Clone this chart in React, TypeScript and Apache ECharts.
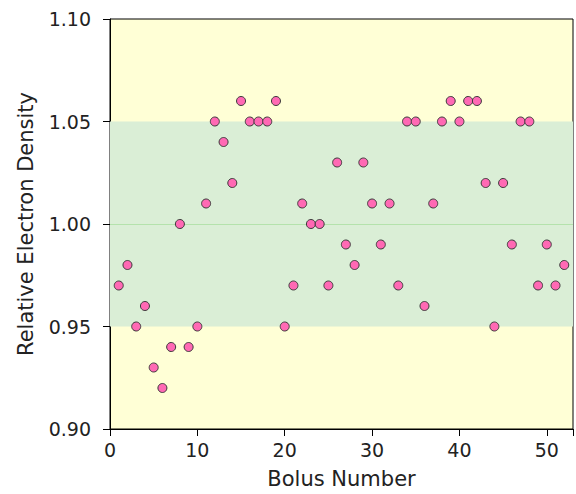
import React, { useEffect, useRef } from "react";
import * as echarts from "echarts";

const bolusNumbers = [
  1, 2, 3, 4, 5, 6, 7, 8, 9, 10, 11, 12, 13, 14, 15, 16, 17, 18, 19, 20, 21, 22, 23, 24, 25, 26,
  27, 28, 29, 30, 31, 32, 33, 34, 35, 36, 37, 38, 39, 40, 41, 42, 43, 44, 45, 46, 47, 48, 49, 50, 51, 52,
];
const relDensity = [
  0.97, 0.98, 0.95, 0.96, 0.93, 0.92, 0.94, 1.0, 0.94, 0.95, 1.01, 1.05, 1.04, 1.02, 1.06, 1.05,
  1.05, 1.05, 1.06, 0.95, 0.97, 1.01, 1.0, 1.0, 0.97, 1.03, 0.99, 0.98, 1.03, 1.01, 0.99, 1.01,
  0.97, 1.05, 1.05, 0.96, 1.01, 1.05, 1.06, 1.05, 1.06, 1.06, 1.02, 0.95, 1.02, 0.99, 1.05, 1.05,
  0.97, 0.99, 0.97, 0.98,
];
const toleranceBand = [0.95, 1.05];
const referenceValue = 1.0;

const FONT = "DejaVu Sans";

export default function App() {
  const ref = useRef<HTMLDivElement>(null);
  useEffect(() => {
    if (!ref.current) return;
    const chart = echarts.init(ref.current, undefined, { renderer: "svg" });
    chart.setOption({
      animation: false,
      grid: {
        left: 110,
        top: 19,
        right: 1,
        bottom: 62,
        show: true,
        backgroundColor: "#ffffd6",
        borderColor: "#000",
        borderWidth: 1,
      },
      xAxis: {
        type: "value",
        min: 0,
        max: 53,
        interval: 10,
        name: "Bolus Number",
        nameLocation: "middle",
        nameGap: 39,
        nameTextStyle: { fontFamily: FONT, fontSize: 21, color: "#222" },
        axisLine: { show: true, lineStyle: { color: "#000" } },
        axisTick: { show: true, length: 7, lineStyle: { color: "#000" } },
        axisLabel: {
          fontFamily: FONT,
          fontSize: 19,
          color: "#222",
          margin: 11,
          formatter: (v: number) => (v % 10 === 0 ? String(v) : ""),
        },
        splitLine: { show: false },
      },
      yAxis: {
        type: "value",
        min: 0.9,
        max: 1.1,
        interval: 0.05,
        name: "Relative Electron Density",
        nameLocation: "middle",
        nameGap: 74,
        nameTextStyle: { fontFamily: FONT, fontSize: 21, color: "#222" },
        axisLine: { show: true, lineStyle: { color: "#000" } },
        axisTick: { show: true, length: 7, lineStyle: { color: "#000" } },
        axisLabel: {
          fontFamily: FONT,
          fontSize: 19,
          color: "#222",
          margin: 19,
          formatter: (v: number) => v.toFixed(2),
        },
        splitLine: { show: false },
      },
      series: [
        {
          type: "scatter",
          data: bolusNumbers.map((b, i) => [b, relDensity[i]]),
          symbol: "circle",
          symbolSize: 9,
          itemStyle: { color: "#ff69b4", borderColor: "#3a3a3a", borderWidth: 1, opacity: 1 },
          z: 5,
          markArea: {
            silent: true,
            itemStyle: { color: "#daeed6" },
            data: [[{ yAxis: toleranceBand[0] }, { yAxis: toleranceBand[1] }]],
          },
          markLine: {
            silent: true,
            symbol: "none",
            label: { show: false },
            lineStyle: { color: "#b4e2ac", type: "solid", width: 1 },
            data: [{ yAxis: referenceValue }],
          },
        },
      ],
    });
    return () => chart.dispose();
  }, []);
  return (
    <div
      ref={ref}
      style={{ position: "fixed", left: 0, top: 0, width: 576, height: 494, background: "#fff" }}
    />
  );
}
